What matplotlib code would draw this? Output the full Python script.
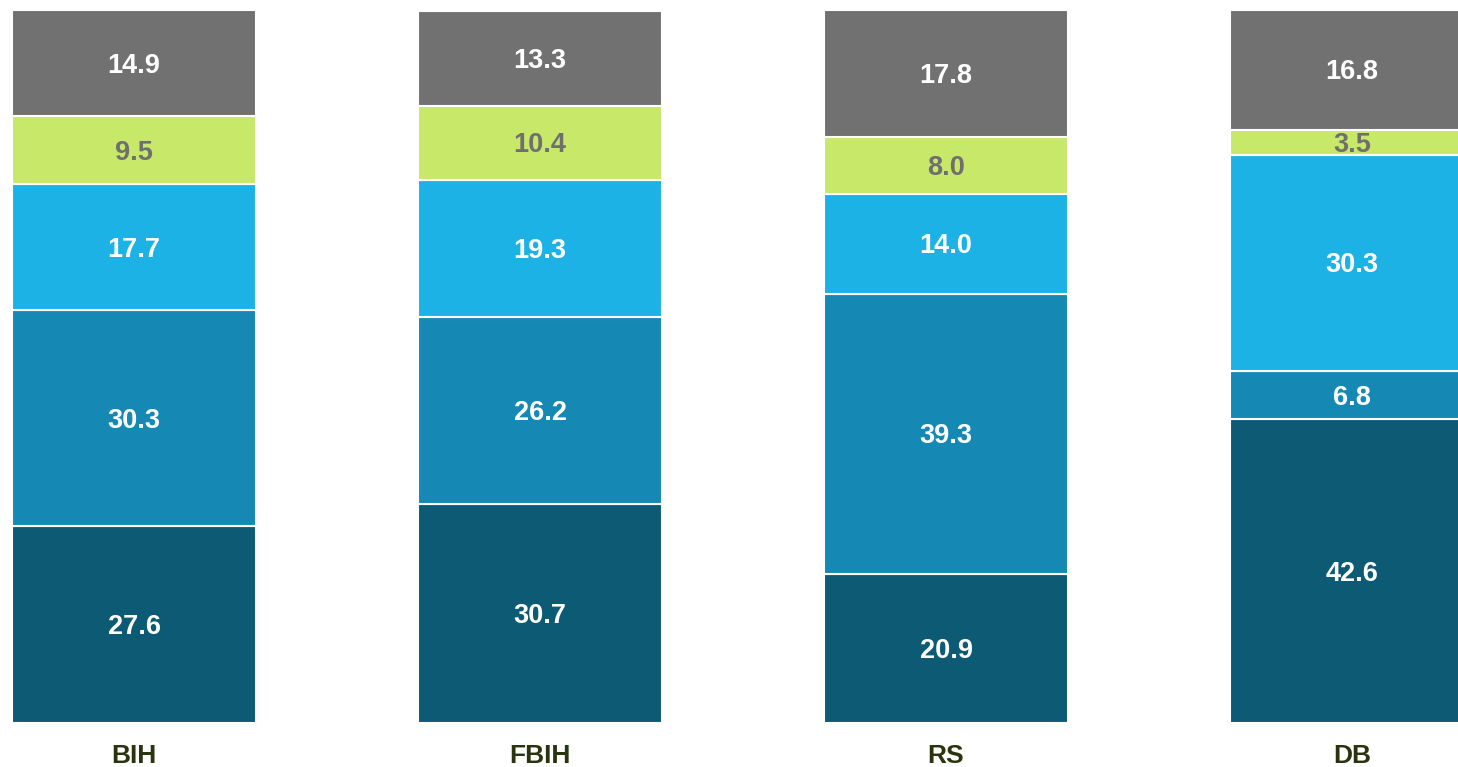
import numpy as np
import matplotlib
matplotlib.use("Agg")
import matplotlib.pyplot as plt

regions = ["BIH", "FBIH", "RS", "DB"]

# segments from bottom to top
seg1 = [27.6, 30.7, 20.9, 42.6]
seg2 = [30.3, 26.2, 39.3, 6.8]
seg3 = [17.7, 19.3, 14.0, 30.3]
seg4 = [9.5, 10.4, 8.0, 3.5]
seg5 = [14.9, 13.3, 17.8, 16.8]

series = [seg1, seg2, seg3, seg4, seg5]
colors = ["#0c5a73", "#1589b4", "#1db2e6", "#c8e86a", "#717171"]
text_colors = ["white", "white", "white", "#6f6f6f", "white"]

plt.rcParams['font.family'] = ['Liberation Sans', 'DejaVu Sans']

fig = plt.figure(figsize=(14.58, 7.67), dpi=100)
ax = fig.add_axes([0, 44 / 767, 1, 713 / 767])

x = np.arange(len(regions))
bottom = np.zeros(len(regions))
for vals, col, tcol in zip(series, colors, text_colors):
    vals = np.array(vals)
    ax.bar(x, vals, width=0.6, bottom=bottom, color=col,
           edgecolor="white", linewidth=1.5)
    for xi, b, v in zip(x, bottom, vals):
        ax.text(xi, b + v / 2 - 0.35, f"{v:.1f}", ha="center", va="center",
                color=tcol, fontsize=19.5, fontweight="bold")
    bottom += vals

ax.set_xlim(-134 / 406, (1458 - 134) / 406)
ax.set_ylim(0, 100)
ax.set_xticks(x)
ax.set_xticklabels(regions, fontsize=19, fontweight="bold", color="#2a3510")
ax.tick_params(axis="x", length=0, pad=15)
ax.set_yticks([])
for s in ax.spines.values():
    s.set_visible(False)

fig.savefig("out.png", dpi=100)
